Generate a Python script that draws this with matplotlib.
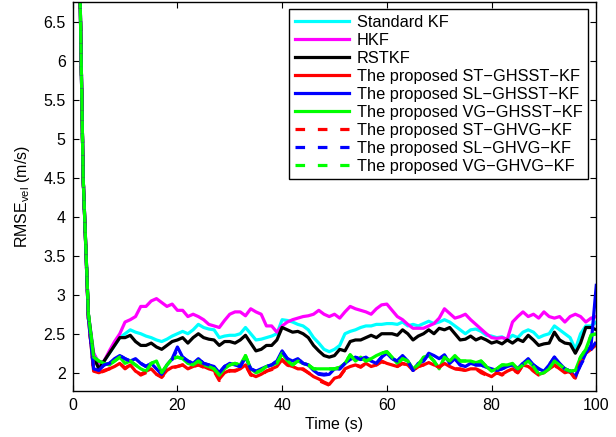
import matplotlib
matplotlib.use("Agg")
import matplotlib.pyplot as plt
import numpy as np

plt.rcParams['font.family'] = ['Liberation Sans', 'DejaVu Sans']
plt.rcParams['mathtext.default'] = 'regular'

time = np.arange(1, 101)

std_kf = [8.5, 4.5, 2.75, 2.25, 2.12, 2.15, 2.25, 2.35, 2.45, 2.5,
          2.55, 2.52, 2.5, 2.47, 2.45, 2.42, 2.40, 2.43, 2.47, 2.5,
          2.53, 2.5, 2.55, 2.62, 2.58, 2.56, 2.55, 2.45, 2.47, 2.48,
          2.48, 2.5, 2.58, 2.5, 2.42, 2.43, 2.45, 2.47, 2.5, 2.68,
          2.67, 2.65, 2.62, 2.6, 2.55, 2.45, 2.38, 2.3, 2.27, 2.3,
          2.35, 2.5, 2.53, 2.55, 2.58, 2.6, 2.6, 2.62, 2.62, 2.63,
          2.63, 2.62, 2.65, 2.6, 2.62, 2.6, 2.63, 2.66, 2.63, 2.65,
          2.68, 2.65, 2.6, 2.55, 2.5, 2.55, 2.56, 2.53, 2.48, 2.47,
          2.45, 2.46, 2.42, 2.48, 2.45, 2.52, 2.55, 2.52, 2.45, 2.48,
          2.5, 2.6, 2.55, 2.5, 2.45, 2.3, 2.5, 2.6, 2.6, 2.65]

hkf = [8.5, 4.5, 2.75, 2.25, 2.12, 2.15, 2.28, 2.4, 2.5, 2.65,
       2.68, 2.72, 2.85, 2.85, 2.92, 2.95, 2.9, 2.85, 2.88, 2.8,
       2.8, 2.72, 2.75, 2.72, 2.68, 2.62, 2.6, 2.58, 2.67, 2.75,
       2.78, 2.78, 2.73, 2.82, 2.78, 2.75, 2.6, 2.6, 2.52, 2.6,
       2.65, 2.68, 2.7, 2.72, 2.73, 2.75, 2.8, 2.75, 2.72, 2.75,
       2.7, 2.78, 2.85, 2.82, 2.8, 2.78, 2.75, 2.82, 2.87, 2.88,
       2.8, 2.72, 2.68, 2.62, 2.57, 2.57, 2.57, 2.6, 2.63, 2.7,
       2.82, 2.76, 2.7, 2.72, 2.75, 2.68, 2.62, 2.56, 2.5, 2.45,
       2.44, 2.45, 2.43, 2.65, 2.72, 2.78, 2.72, 2.75, 2.7, 2.78,
       2.72, 2.7, 2.72, 2.65, 2.72, 2.75, 2.72, 2.65, 2.7, 2.72]

rstkf = [8.5, 4.5, 2.75, 2.2, 2.05, 2.15, 2.25, 2.35, 2.45, 2.45,
         2.48, 2.4, 2.35, 2.35, 2.38, 2.33, 2.3, 2.35, 2.4, 2.42,
         2.45, 2.38, 2.45, 2.5, 2.45, 2.43, 2.42, 2.35, 2.4, 2.4,
         2.38, 2.42, 2.48, 2.38, 2.28, 2.3, 2.35, 2.35, 2.42, 2.58,
         2.55, 2.52, 2.53, 2.5, 2.45, 2.35, 2.28, 2.22, 2.2, 2.22,
         2.3, 2.28, 2.4, 2.42, 2.42, 2.45, 2.48, 2.45, 2.5, 2.5,
         2.5, 2.48, 2.55, 2.5, 2.42, 2.47, 2.5, 2.55, 2.5, 2.57,
         2.55, 2.58, 2.5, 2.42, 2.43, 2.47, 2.42, 2.45, 2.42, 2.38,
         2.4, 2.37, 2.42, 2.38, 2.43, 2.4, 2.48, 2.42, 2.35, 2.37,
         2.38, 2.52, 2.42, 2.38, 2.37, 2.25, 2.38, 2.58, 2.58, 2.55]

st_ghsst = [8.5, 4.5, 2.7, 2.02, 2.0, 2.03, 2.05, 2.08, 2.12, 2.05,
            2.1, 2.02, 1.98, 2.02, 2.05, 1.98, 1.95, 2.03, 2.07, 2.08,
            2.1, 2.05, 2.08, 2.1, 2.08, 2.05, 2.03, 1.92, 2.0, 2.03,
            2.02, 2.05, 2.1, 1.98, 1.95, 1.98, 2.02, 2.05, 2.08, 2.17,
            2.1, 2.08, 2.05, 2.05, 2.0, 1.95, 1.92, 1.88, 1.85, 1.93,
            1.95, 2.05, 2.08, 2.1, 2.08, 2.12, 2.08, 2.1, 2.15, 2.12,
            2.1, 2.08, 2.12, 2.1, 2.03, 2.08, 2.1, 2.13, 2.1, 2.08,
            2.12, 2.08, 2.05, 2.05, 2.03, 2.05, 2.05, 2.02, 1.98, 1.95,
            2.0, 1.98, 2.02, 2.05, 2.0, 2.1, 2.08, 2.03, 1.98, 2.0,
            2.05, 2.1, 2.05, 2.0, 2.02, 1.93, 2.15, 2.25, 2.3, 2.38]

sl_ghsst = [8.5, 4.5, 2.7, 2.05, 2.03, 2.1, 2.12, 2.18, 2.22, 2.18,
            2.15, 2.18, 2.12, 2.08, 2.12, 2.05, 1.98, 2.1, 2.18, 2.33,
            2.2, 2.15, 2.12, 2.18, 2.12, 2.1, 2.08, 2.0, 2.08, 2.12,
            2.1, 2.08, 2.2, 2.05, 2.02, 2.05, 2.08, 2.1, 2.15, 2.28,
            2.18, 2.15, 2.18, 2.12, 2.1, 2.03, 1.98, 1.97, 1.98, 2.05,
            2.05, 2.12, 2.17, 2.2, 2.17, 2.2, 2.15, 2.12, 2.2, 2.25,
            2.18, 2.15, 2.22, 2.15, 2.03, 2.12, 2.15, 2.25, 2.22, 2.18,
            2.23, 2.12, 2.18, 2.1, 2.08, 2.12, 2.1, 2.1, 2.07, 2.05,
            2.03, 2.05, 2.08, 2.1, 2.05, 2.12, 2.18, 2.1, 2.05, 2.02,
            2.1, 2.2, 2.12, 2.05, 2.02, 1.95, 2.1, 2.25, 2.35, 3.12]

vg_ghsst = [8.5, 4.5, 2.75, 2.2, 2.15, 2.12, 2.1, 2.15, 2.2, 2.12,
            2.15, 2.1, 2.05, 2.02, 2.12, 2.15, 2.0, 2.1, 2.18, 2.2,
            2.18, 2.12, 2.1, 2.15, 2.1, 2.08, 2.05, 1.97, 2.05, 2.1,
            2.12, 2.1, 2.22, 2.05, 2.0, 2.03, 2.08, 2.1, 2.12, 2.25,
            2.15, 2.1, 2.15, 2.12, 2.1, 2.05, 2.05, 2.05, 2.05, 2.05,
            2.07, 2.12, 2.23, 2.15, 2.2, 2.15, 2.18, 2.22, 2.25, 2.27,
            2.2, 2.12, 2.18, 2.15, 2.05, 2.1, 2.2, 2.22, 2.15, 2.05,
            2.2, 2.15, 2.22, 2.15, 2.15, 2.15, 2.13, 2.15, 2.08, 2.02,
            2.05, 2.1, 2.1, 2.12, 2.05, 2.1, 2.15, 2.08, 1.98, 2.0,
            2.05, 2.15, 2.1, 2.05, 2.02, 2.03, 2.2, 2.3, 2.48, 2.5]

st_ghvg = [8.5, 4.5, 2.7, 2.03, 2.0, 2.02, 2.05, 2.07, 2.12, 2.06,
           2.1, 2.03, 1.97, 2.0, 2.04, 1.98, 1.94, 2.02, 2.06, 2.08,
           2.1, 2.06, 2.08, 2.1, 2.07, 2.05, 2.02, 1.9, 2.0, 2.02,
           2.03, 2.05, 2.1, 1.97, 1.95, 1.97, 2.02, 2.04, 2.08, 2.16,
           2.1, 2.07, 2.06, 2.04, 2.0, 1.95, 1.9, 1.87, 1.84, 1.92,
           1.95, 2.04, 2.08, 2.1, 2.07, 2.12, 2.08, 2.1, 2.14, 2.12,
           2.1, 2.08, 2.12, 2.09, 2.03, 2.08, 2.1, 2.12, 2.1, 2.07,
           2.12, 2.08, 2.05, 2.04, 2.03, 2.04, 2.05, 2.0, 1.97, 1.93,
           2.0, 1.97, 2.02, 2.04, 2.0, 2.1, 2.08, 2.02, 1.97, 2.0,
           2.05, 2.1, 2.04, 2.0, 2.01, 1.92, 2.14, 2.24, 2.3, 2.36]

sl_ghvg = [8.5, 4.5, 2.7, 2.05, 2.04, 2.1, 2.12, 2.17, 2.22, 2.18,
           2.15, 2.17, 2.12, 2.08, 2.12, 2.06, 1.98, 2.1, 2.17, 2.3,
           2.2, 2.15, 2.12, 2.18, 2.12, 2.1, 2.08, 2.0, 2.08, 2.12,
           2.1, 2.08, 2.2, 2.05, 2.02, 2.05, 2.08, 2.1, 2.15, 2.27,
           2.18, 2.15, 2.18, 2.12, 2.1, 2.03, 1.99, 1.98, 1.99, 2.05,
           2.05, 2.12, 2.17, 2.2, 2.17, 2.2, 2.15, 2.12, 2.2, 2.24,
           2.18, 2.15, 2.22, 2.15, 2.03, 2.12, 2.15, 2.24, 2.22, 2.18,
           2.22, 2.12, 2.18, 2.1, 2.08, 2.12, 2.1, 2.1, 2.07, 2.05,
           2.03, 2.05, 2.08, 2.1, 2.05, 2.12, 2.17, 2.1, 2.05, 2.02,
           2.1, 2.2, 2.12, 2.05, 2.02, 1.96, 2.1, 2.22, 2.3, 2.4]

vg_ghvg = [8.5, 4.5, 2.75, 2.2, 2.15, 2.12, 2.1, 2.15, 2.2, 2.12,
           2.15, 2.1, 2.05, 2.02, 2.12, 2.15, 2.0, 2.1, 2.18, 2.2,
           2.18, 2.12, 2.1, 2.15, 2.1, 2.08, 2.05, 1.97, 2.05, 2.1,
           2.12, 2.1, 2.22, 2.05, 2.0, 2.03, 2.08, 2.1, 2.12, 2.25,
           2.15, 2.1, 2.15, 2.12, 2.1, 2.05, 2.05, 2.05, 2.05, 2.05,
           2.07, 2.12, 2.23, 2.15, 2.2, 2.15, 2.18, 2.22, 2.25, 2.27,
           2.2, 2.12, 2.18, 2.15, 2.05, 2.1, 2.2, 2.22, 2.15, 2.05,
           2.2, 2.15, 2.22, 2.15, 2.15, 2.15, 2.13, 2.15, 2.08, 2.02,
           2.05, 2.1, 2.1, 2.12, 2.05, 2.1, 2.15, 2.08, 1.98, 2.0,
           2.05, 2.15, 2.1, 2.05, 2.02, 2.03, 2.2, 2.3, 2.48, 2.5]

labels = ['Standard KF', 'HKF', 'RSTKF',
          'The proposed ST\u2212GHSST\u2212KF', 'The proposed SL\u2212GHSST\u2212KF',
          'The proposed VG\u2212GHSST\u2212KF', 'The proposed ST\u2212GHVG\u2212KF',
          'The proposed SL\u2212GHVG\u2212KF', 'The proposed VG\u2212GHVG\u2212KF']
series = [std_kf, hkf, rstkf, st_ghsst, sl_ghsst, vg_ghsst, st_ghvg, sl_ghvg, vg_ghvg]
colors = ['#00ffff', '#ff00ff', 'black', 'red', 'blue', '#00ff00', 'red', 'blue', '#00ff00']
styles = ['-'] * 6 + ['--'] * 3

fig = plt.figure(figsize=(6.16, 4.37), dpi=100)
ax = fig.add_axes([0.118, 0.106, 0.850, 0.889])

for y, lab, c, ls in zip(series, labels, colors, styles):
    line, = ax.plot(time, y, color=c, lw=2.3, ls=ls, label=lab)
    if ls == '--':
        line.set_dashes((3, 4))

ax.set_xlim(0, 100)
ax.set_ylim(1.77, 6.75)
ax.set_xticks(np.arange(0, 101, 20))
ax.set_yticks(np.arange(2, 6.51, 0.5))
ax.set_yticklabels(['2', '2.5', '3', '3.5', '4', '4.5', '5', '5.5', '6', '6.5'])
ax.tick_params(direction='in', top=True, right=True, labelsize=11.5, length=4,
               width=0.8, pad=5)
for s in ax.spines.values():
    s.set_linewidth(1.0)

ax.set_xlabel('Time (s)', fontsize=11.5, labelpad=3)
ax.set_ylabel('RMSE$_{vel}$ (m/s)', fontsize=11.5, labelpad=8)

leg = ax.legend(loc='upper right', bbox_to_anchor=(0.985, 0.982), borderaxespad=0,
                fontsize=11.8, fancybox=False, edgecolor='black', framealpha=1,
                handlelength=3.3, labelspacing=0.18, handletextpad=0.5,
                borderpad=0.35)
leg.get_frame().set_linewidth(1.0)

fig.savefig('out.png', dpi=100)
